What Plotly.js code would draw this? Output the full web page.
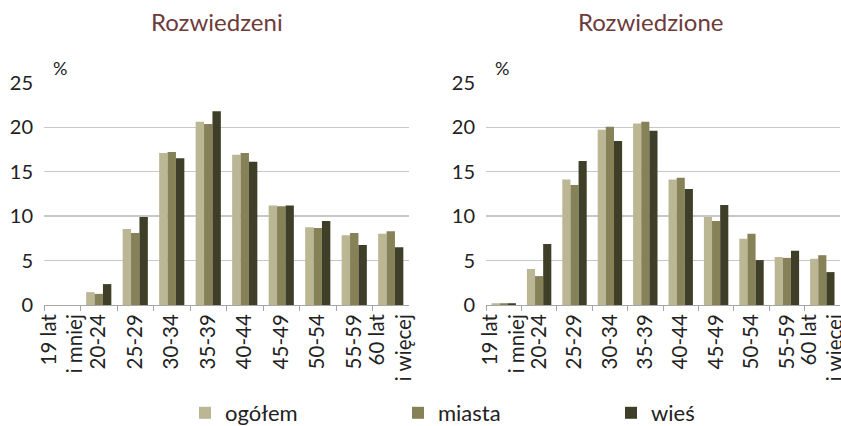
<!DOCTYPE html>
<html><head><meta charset="utf-8">
<script src="https://cdn.plot.ly/plotly-3.0.1.min.js"></script>
<style>body{margin:0}#c{width:841px;height:426px}</style>
</head><body><div id="c"></div>
<script>
const categories = ["19 lat<br>i mniej","20-24","25-29","30-34","35-39","40-44","45-49","50-54","55-59","60 lat<br>i więcej"];
const seriesNames = ["ogółem","miasta","wieś"];
const menOgolem = [0, 1.45, 8.55, 17.1, 20.6, 16.9, 11.2, 8.75, 7.85, 8.0];
const menMiasta = [0, 1.25, 8.1, 17.2, 20.35, 17.1, 11.1, 8.65, 8.1, 8.3];
const menWies   = [0, 2.35, 9.9, 16.5, 21.8, 16.1, 11.2, 9.45, 6.75, 6.5];
const womenOgolem = [0.2, 4.05, 14.1, 19.7, 20.4, 14.1, 9.9, 7.45, 5.4, 5.2];
const womenMiasta = [0.2, 3.25, 13.5, 20.05, 20.6, 14.3, 9.45, 8.0, 5.3, 5.6];
const womenWies   = [0.2, 6.85, 16.2, 18.45, 19.6, 13.05, 11.25, 5.05, 6.1, 3.7];
const yTicks = [0,5,10,15,20,25];

const colors = ["#BBB794","#878157","#3F3F29"];
const font = "Lato, Open Sans, sans-serif";
const W = 841, H = 426;

const traces = [];
[[menOgolem,menMiasta,menWies],[womenOgolem,womenMiasta,womenWies]].forEach((set, p) => {
  set.forEach((vals, i) => {
    traces.push({
      type: "bar", x: categories, y: vals, name: seriesNames[i],
      marker: {color: colors[i], line: {width: 0}},
      xaxis: p ? "x2" : "x", yaxis: p ? "y2" : "y",
      showlegend: p === 0, hoverinfo: "skip"
    });
  });
});

const yBottom = 305, yTop = 82.7;
const yDom = [(H - yBottom)/H, (H - yTop)/H];
const xAx = (d, anchor) => ({
  domain: d, anchor: anchor, type: "category",
  tickangle: -90, ticks: "outside", tickson: "boundaries", ticklen: 5,
  tickcolor: "#A6A6A6", showline: true, linecolor: "#A6A6A6", linewidth: 1,
  tickfont: {family: font, size: 20.5, color: "#222"}, showgrid: false, fixedrange: true
});
const yAx = (d, anchor) => ({
  domain: d, anchor: anchor, range: [0, 25], tickvals: yTicks,
  showgrid: true, gridcolor: "#C8C8C8", gridwidth: 1.3, zeroline: false,
  showline: false, ticks: "", ticklabelstandoff: 10,
  tickfont: {family: font, size: 20, color: "#222"}, fixedrange: true
});

const layout = {
  width: W, height: H,
  margin: {l: 0, r: 0, t: 0, b: 0, autoexpand: false},
  paper_bgcolor: "#fff", plot_bgcolor: "rgba(0,0,0,0)",
  barmode: "group", bargap: 0.31, bargroupgap: 0,
  xaxis: xAx([44/W, 409/W], "y"),
  yaxis: yAx(yDom, "x"),
  xaxis2: xAx([486/W, 840/W], "y2"),
  yaxis2: yAx(yDom, "x2"),
  showlegend: true,
  legend: {orientation: "h", x: 185/W, xanchor: "left", y: 13/H, yanchor: "middle",
    font: {family: font, size: 22, color: "#222"}, entrywidth: 168, itemwidth: 30,
    traceorder: "normal", bgcolor: "rgba(0,0,0,0)"},
  annotations: [
    {text: "Rozwiedzeni", x: 217/W, y: (H-22)/H, xref: "paper", yref: "paper", showarrow: false,
     xanchor: "center", yanchor: "middle", font: {family: font, size: 24, color: "#6E3B3B"}},
    {text: "Rozwiedzione", x: 650/W, y: (H-22)/H, xref: "paper", yref: "paper", showarrow: false,
     xanchor: "center", yanchor: "middle", font: {family: font, size: 24, color: "#6E3B3B"}},
    {text: "%", x: 60/W, y: (H-68)/H, xref: "paper", yref: "paper", showarrow: false,
     xanchor: "center", yanchor: "middle", font: {family: font, size: 18, color: "#222"}},
    {text: "%", x: 502/W, y: (H-68)/H, xref: "paper", yref: "paper", showarrow: false,
     xanchor: "center", yanchor: "middle", font: {family: font, size: 18, color: "#222"}}
  ]
};
Plotly.newPlot("c", traces, layout, {displayModeBar: false, staticPlot: true});
</script></body></html>
